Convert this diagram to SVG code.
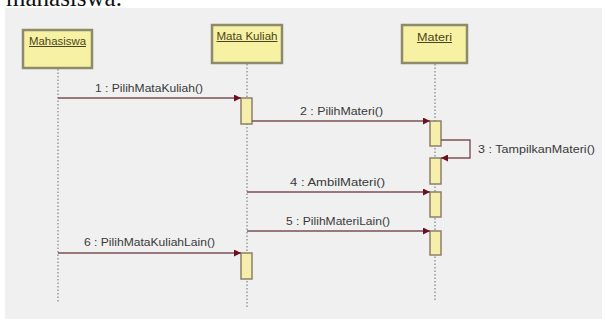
<svg xmlns="http://www.w3.org/2000/svg" width="606" height="320" viewBox="0 0 606 320">
<style>
.obj{fill:#f7f1a3;stroke:#8e8a6c;stroke-width:2.5}
.objt{font-family:"Liberation Sans",Arial,sans-serif;font-size:10px;fill:#4a4520;text-anchor:middle;text-decoration:underline}
.life{stroke:#8a8a8a;stroke-width:1.3;stroke-dasharray:1.5 2;fill:none}
.act{fill:#f6efab;stroke:#8c8068;stroke-width:1.5}
.msg{stroke:#7d5056;stroke-width:1.4;fill:none}
.lbl{font-family:"Liberation Sans",Arial,sans-serif;font-size:10.5px;fill:#3a3a3a}
</style>
<defs>
<marker id="ah" viewBox="0 0 10 10" refX="10" refY="5" markerWidth="7" markerHeight="7" markerUnits="userSpaceOnUse" orient="auto">
<path d="M0,0 L10,5 L0,10 z" fill="#6b1020"/>
</marker>
</defs>
<rect width="606" height="320" fill="#ffffff"/>
<text x="6" y="6" font-family="Liberation Serif,'Times New Roman',serif" font-size="25" fill="#111">mahasiswa.</text>
<rect x="5" y="8" width="597" height="311" fill="#f0f0f0"/>

<g id="lifelines">
<line class="life" x1="58" y1="69" x2="58" y2="302"/>
<line class="life" x1="247" y1="64" x2="247" y2="309"/>
<line class="life" x1="435" y1="64" x2="435" y2="300"/>
</g>

<g id="mahasiswa">
<rect class="obj" x="23" y="30" width="69" height="38"/>
<text class="objt" x="57.5" y="45" textLength="57" lengthAdjust="spacingAndGlyphs">Mahasiswa</text>
</g>
<g id="matakuliah">
<rect class="obj" x="212" y="25" width="70" height="38"/>
<text class="objt" x="247" y="40" textLength="61" lengthAdjust="spacingAndGlyphs">Mata Kuliah</text>
</g>
<g id="materi">
<rect class="obj" x="402" y="25" width="65" height="38"/>
<text class="objt" x="434.5" y="41" textLength="35" lengthAdjust="spacingAndGlyphs">Materi</text>
</g>

<g id="activations">
<rect class="act" x="241" y="98" width="11" height="26"/>
<rect class="act" x="430" y="121" width="11" height="25"/>
<rect class="act" x="430" y="158" width="11" height="26"/>
<rect class="act" x="430" y="192" width="11" height="25"/>
<rect class="act" x="430" y="231" width="11" height="24"/>
<rect class="act" x="241" y="253" width="11" height="26"/>
</g>

<g id="connectors">
<line class="msg" x1="58" y1="98" x2="241" y2="98" marker-end="url(#ah)"/>
<line class="msg" x1="252" y1="121" x2="430" y2="121" marker-end="url(#ah)"/>
<polyline class="msg" points="441,140 470,140 470,158 441,158" marker-end="url(#ah)"/>
<line class="msg" x1="247" y1="192" x2="430" y2="192" marker-end="url(#ah)"/>
<line class="msg" x1="247" y1="231" x2="430" y2="231" marker-end="url(#ah)"/>
<line class="msg" x1="58" y1="253" x2="241" y2="253" marker-end="url(#ah)"/>
</g>

<g id="labels">
<text class="lbl" x="95" y="92" textLength="108" lengthAdjust="spacingAndGlyphs">1 : PilihMataKuliah()</text>
<text class="lbl" x="300" y="115" textLength="83" lengthAdjust="spacingAndGlyphs">2 : PilihMateri()</text>
<text class="lbl" x="478" y="153" textLength="117" lengthAdjust="spacingAndGlyphs">3 : TampilkanMateri()</text>
<text class="lbl" x="290" y="186" textLength="95" lengthAdjust="spacingAndGlyphs">4 : AmbilMateri()</text>
<text class="lbl" x="286" y="225" textLength="104" lengthAdjust="spacingAndGlyphs">5 : PilihMateriLain()</text>
<text class="lbl" x="84" y="246" textLength="131" lengthAdjust="spacingAndGlyphs">6 : PilihMataKuliahLain()</text>
</g>
</svg>
